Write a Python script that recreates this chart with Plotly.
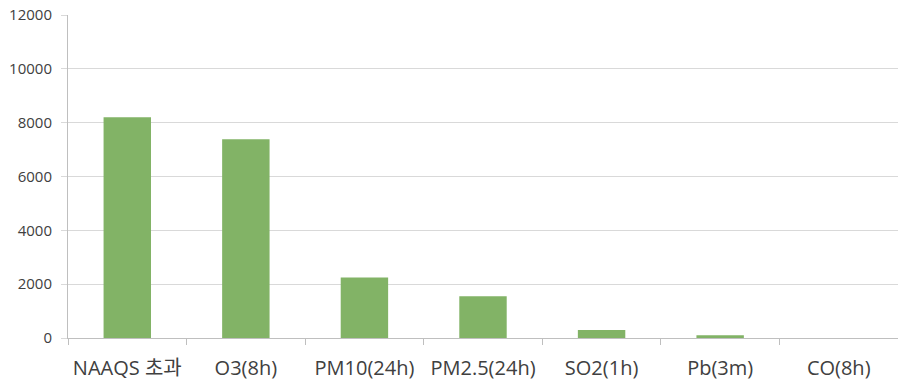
import plotly.graph_objects as go

categories = ["NAAQS 초과", "O3(8h)", "PM10(24h)", "PM2.5(24h)", "SO2(1h)", "Pb(3m)", "CO(8h)"]
values = [8200, 7380, 2250, 1550, 300, 100, 0]
y_ticks = [0, 2000, 4000, 6000, 8000, 10000, 12000]
y_tick_labels = ["0", "2000", "4000", "6000", "8000", "10000", "12000"]

FONT = "Open Sans, Noto Sans CJK KR, sans-serif"

fig = go.Figure(go.Bar(
    x=categories, y=values,
    marker=dict(color="#82b366", line=dict(width=0)),
    width=0.4,
))
fig.update_layout(
    width=898, height=380,
    margin=dict(l=68, r=0, t=15, b=42),
    plot_bgcolor="white", paper_bgcolor="white",
    showlegend=False,
    font=dict(family=FONT, color="#404040"),
)
fig.update_xaxes(
    automargin=False,
    showline=True, linecolor="#bfbfbf", linewidth=1,
    ticks="outside", tickson="boundaries", ticklen=6, tickcolor="#bfbfbf",
    tickfont=dict(size=20, color="#404040"),
    ticklabelstandoff=12,
    showgrid=False,
)
fig.update_yaxes(
    automargin=False,
    range=[0, 12000], tickvals=y_ticks, ticktext=y_tick_labels,
    showline=True, linecolor="#bfbfbf", linewidth=1,
    ticks="outside", ticklen=6, tickcolor="#d9d9d9",
    gridcolor="#d9d9d9", gridwidth=1, zeroline=False,
    tickfont=dict(size=15, color="#404040"),
    ticklabelstandoff=6,
)
fig.write_html(
    "out.html",
    config={"displayModeBar": False},
    post_script="document.body.style.margin='0';document.body.style.overflow='hidden';",
)
